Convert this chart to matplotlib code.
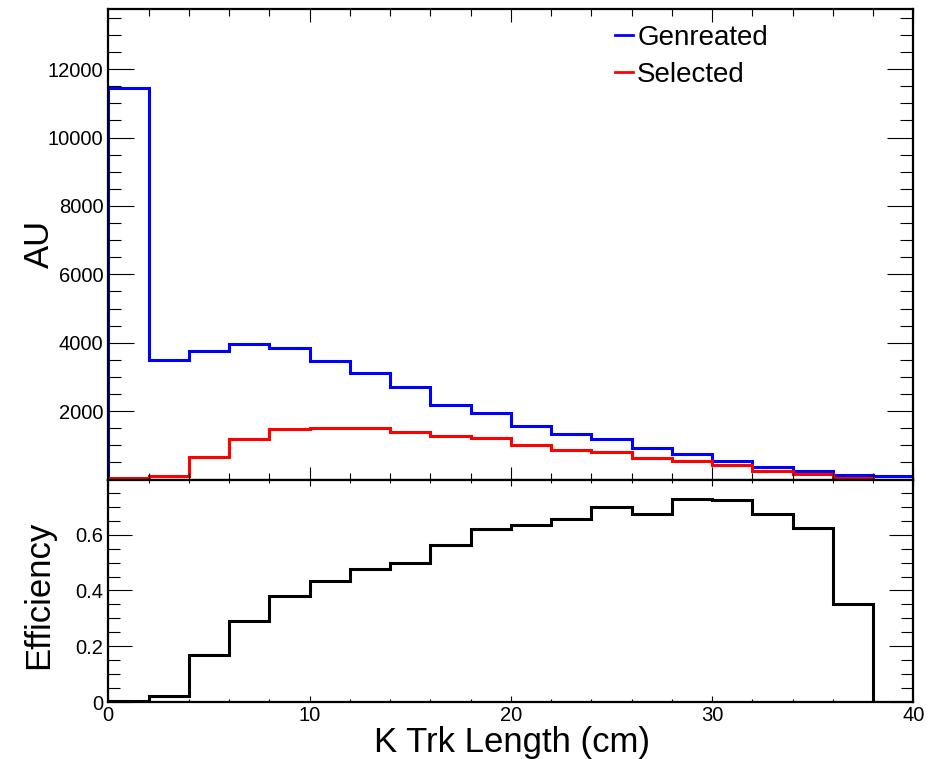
import matplotlib
matplotlib.use("Agg")
import matplotlib.pyplot as plt
from matplotlib.ticker import MultipleLocator, FixedLocator

plt.rcParams['font.family'] = ['Liberation Sans', 'DejaVu Sans']

# ---- data ----
bin_edges = [0, 2, 4, 6, 8, 10, 12, 14, 16, 18, 20, 22, 24, 26, 28, 30, 32, 34, 36, 38, 40]
generated = [11450, 3490, 3760, 3950, 3840, 3455, 3120, 2695, 2175, 1935,
             1560, 1335, 1180, 925, 750, 535, 370, 245, 125, 90]
selected = [30, 115, 660, 1170, 1465, 1510, 1515, 1385, 1260, 1220,
            1005, 865, 790, 625, 535, 430, 245, 175, 45, 0]
efficiency = [0.005, 0.022, 0.169, 0.291, 0.380, 0.434, 0.476, 0.497, 0.562, 0.619,
              0.636, 0.655, 0.697, 0.672, 0.729, 0.723, 0.675, 0.625, 0.352, 0.0]
labels = ["Genreated", "Selected"]
xlabel = "K Trk Length (cm)"
ylabel_top = "AU"
ylabel_bot = "Efficiency"
top_yticks = [2000, 4000, 6000, 8000, 10000, 12000]
bot_yticks = [0, 0.2, 0.4, 0.6]
xticks = [0, 10, 20, 30, 40]

W, H = 930, 759
fig = plt.figure(figsize=(W / 100, H / 100), dpi=100)

def px_rect(l, t, r, b):
    return [l / W, 1 - b / H, (r - l) / W, (b - t) / H]

ax1 = fig.add_axes(px_rect(108.3, 9.3, 913.3, 479.5))
ax2 = fig.add_axes(px_rect(108.3, 479.5, 913.3, 702.3))

lw = 2.2
ax1.stairs(generated, bin_edges, baseline=0, color='#0000ff', lw=lw, label=labels[0])
ax1.stairs(selected, bin_edges, baseline=0, color='#ff0000', lw=lw, label=labels[1])
ax2.stairs(efficiency, bin_edges, baseline=0, color='black', lw=lw)

ax1.set_xlim(0, 40)
ax1.set_ylim(0, 13750)
ax2.set_xlim(0, 40)
ax2.set_ylim(0, 0.797)

tick_fs = 14.5
for ax in (ax1, ax2):
    for s in ax.spines.values():
        s.set_linewidth(1.6)
    ax.xaxis.set_major_locator(FixedLocator(xticks))
    ax.xaxis.set_minor_locator(MultipleLocator(2))

ax1.yaxis.set_major_locator(FixedLocator(top_yticks))
ax1.yaxis.set_minor_locator(MultipleLocator(500))
ax2.yaxis.set_major_locator(FixedLocator(bot_yticks))
ax2.yaxis.set_minor_locator(MultipleLocator(0.05))

ax1.tick_params(axis='both', which='both', direction='in', top=True, right=True,
                width=0.8, labelsize=tick_fs, colors='black')
ax1.tick_params(axis='x', which='major', length=9.4, labelbottom=False)
ax1.tick_params(axis='x', which='minor', length=5.0)
ax1.tick_params(axis='y', which='major', length=18.7, pad=3.6)
ax1.tick_params(axis='y', which='minor', length=9.4)

ax2.tick_params(axis='both', which='both', direction='in', top=True, right=True,
                width=0.8, labelsize=tick_fs, colors='black')
ax2.tick_params(axis='x', which='major', length=4.3, pad=3)
ax2.tick_params(axis='x', which='minor', length=2.2)
ax2.tick_params(axis='y', which='major', length=17.3, pad=3.6)
ax2.tick_params(axis='y', which='minor', length=8.6)
ax2.set_yticklabels(["0", "0.2", "0.4", "0.6"])

title_fs = 25
fig.text(512.5 / W, 1 - 751.7 / H, xlabel, ha='center', va='baseline', fontsize=title_fs)
fig.text(49.3 / W, 1 - 244 / H, ylabel_top, rotation=90, rotation_mode='anchor',
         ha='center', va='baseline', fontsize=title_fs)
fig.text(48.5 / W, 1 - 595 / H, ylabel_bot, rotation=90, rotation_mode='anchor',
         ha='center', va='baseline', fontsize=title_fs)

ax1.legend(loc='upper left', bbox_to_anchor=(615 / W, 1 - 25 / H),
           bbox_transform=fig.transFigure, frameon=False, fontsize=20,
           handlelength=0.65, handletextpad=0.15, labelspacing=0.38,
           borderpad=0, borderaxespad=0)
for line in ax1.get_legend().get_lines():
    line.set_linewidth(2.0)

fig.savefig("out.png", dpi=100)
